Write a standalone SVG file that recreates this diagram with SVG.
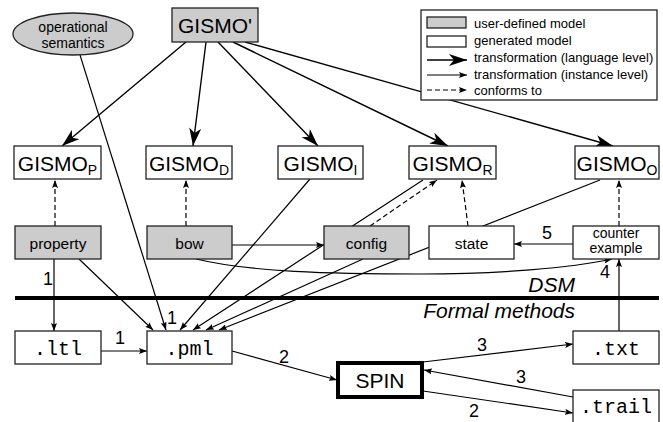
<svg xmlns="http://www.w3.org/2000/svg" width="663" height="422" viewBox="0 0 663 422">
<style>
.box{fill:#fff;stroke:#222;stroke-width:1.3}
.user{fill:#cccccc;stroke:#222;stroke-width:1.3}
.t{font-family:"Liberation Sans",Arial,sans-serif;fill:#000}
.g{font-size:21px;text-anchor:middle}
.m{font-size:15.5px;text-anchor:middle}
.m2{font-size:14px;text-anchor:middle}
.mono{font-family:"Liberation Mono","Courier New",monospace;font-size:20px;text-anchor:middle;fill:#000}
.num{font-size:18px;text-anchor:middle}
.lg{font-size:13px}
.big{fill:none;stroke:#000;stroke-width:1.4;marker-end:url(#bigA)}
.sm{fill:none;stroke:#000;stroke-width:1.2;marker-end:url(#smA)}
.ds{fill:none;stroke:#000;stroke-width:1.2;stroke-dasharray:5,3;marker-end:url(#smA)}
</style>
<defs>
<marker id="bigA" markerUnits="userSpaceOnUse" markerWidth="18" markerHeight="12" viewBox="0 0 18 12" refX="18" refY="6" orient="auto">
<path d="M0,0 L18,6 L0,12 L5,6 z" fill="#000"/>
</marker>
<marker id="smA" markerUnits="userSpaceOnUse" markerWidth="8" markerHeight="6" viewBox="0 0 8 6" refX="8" refY="3" orient="auto">
<path d="M0,0 L8,3 L0,6 L1.5,3 z" fill="#000"/>
</marker>
</defs>

<g id="connectors">
<!-- GISMO' language-level transformations -->
<path class="big" d="M186,42 L62,146"/>
<path class="big" d="M206,42 L193,146"/>
<path class="big" d="M218,42 L318,146"/>
<path class="big" d="M233,42 L448,146"/>
<path class="big" d="M245,42 L613,146"/>
<!-- conforms to -->
<path class="ds" d="M55,226 L55,180"/>
<path class="ds" d="M186,226 L186,180"/>
<path class="ds" d="M370,226 L437,180"/>
<path class="ds" d="M468,226 L462,180"/>
<path class="ds" d="M619,226 L619,180"/>
<!-- instance-level -->
<path class="sm" d="M80,55 L166,330"/>
<path class="sm" d="M79,259 L153,330"/>
<path class="sm" d="M310,179 L180,330"/>
<path class="sm" d="M423,180 L193,330"/>
<path class="sm" d="M363,259 L206,330"/>
<path class="sm" d="M600,180 L219,330"/>
<path class="sm" d="M54,259 L54,331"/>
<path class="sm" d="M101,351 L147,351"/>
<path class="sm" d="M232,245 L324,245"/>
<path class="sm" d="M196,259 C250,272 330,274 420,274 C500,274 570,268 612,259"/>
<path class="sm" d="M573,244 L514,244"/>
<path class="sm" d="M619,331 L619,259"/>
<path class="sm" d="M232,351 L337,380"/>
<path class="sm" d="M423,362 L573,344"/>
<path class="sm" d="M573,397 L424,370"/>
<path class="sm" d="M423,391 L573,413"/>
<!-- separator -->
<line x1="15" y1="298" x2="659" y2="298" stroke="#000" stroke-width="4"/>
</g>

<g id="opsem">
<ellipse cx="73" cy="34" rx="60" ry="21" class="user"/>
<text class="t m2" x="73" y="32">operational</text>
<text class="t m2" x="73" y="47.5">semantics</text>
</g>
<g id="gismo">
<rect x="172" y="8" width="86" height="34" class="user"/>
<text class="t g" x="215" y="33" font-size="22">GISMO'</text>
</g>
<g id="gismoP">
<rect x="14" y="146" width="87" height="33" class="box"/>
<text class="t g" x="57.5" y="170.5">GISMO<tspan font-size="14" dy="4">P</tspan></text>
</g>
<g id="gismoD">
<rect x="146" y="146" width="86" height="33" class="box"/>
<text class="t g" x="189" y="170.5">GISMO<tspan font-size="14" dy="4">D</tspan></text>
</g>
<g id="gismoI">
<rect x="278" y="146" width="85" height="33" class="box"/>
<text class="t g" x="320.5" y="170.5">GISMO<tspan font-size="14" dy="4">I</tspan></text>
</g>
<g id="gismoR">
<rect x="409" y="146" width="87" height="33" class="box"/>
<text class="t g" x="452.5" y="170.5">GISMO<tspan font-size="14" dy="4">R</tspan></text>
</g>
<g id="gismoO">
<rect x="575" y="146" width="84" height="33" class="box"/>
<text class="t g" x="617" y="170.5">GISMO<tspan font-size="14" dy="4">O</tspan></text>
</g>
<g id="property">
<rect x="15" y="226" width="86" height="33" class="user"/>
<text class="t m" x="58" y="249">property</text>
</g>
<g id="bow">
<rect x="147" y="226" width="85" height="33" class="user"/>
<text class="t m" x="189.5" y="249">bow</text>
</g>
<g id="config">
<rect x="324" y="226" width="85" height="33" class="user"/>
<text class="t m" x="366.5" y="249">config</text>
</g>
<g id="state">
<rect x="429" y="226" width="85" height="33" class="box"/>
<text class="t m" x="471.5" y="249">state</text>
</g>
<g id="counterexample">
<rect x="573" y="226" width="86" height="33" class="box"/>
<text class="t m2" x="616" y="237.5">counter</text>
<text class="t m2" x="616" y="253">example</text>
</g>
<g id="ltl">
<rect x="15" y="331" width="86" height="33" class="box"/>
<text class="mono" x="58" y="355">.ltl</text>
</g>
<g id="pml">
<rect x="147" y="331" width="85" height="33" class="box"/>
<text class="mono" x="189.5" y="355">.pml</text>
</g>
<g id="spin">
<rect x="338" y="363" width="84" height="34" fill="#fff" stroke="#000" stroke-width="4"/>
<text class="t g" x="380" y="388">SPIN</text>
</g>
<g id="txt">
<rect x="573" y="331" width="86" height="33" class="box"/>
<text class="mono" x="616" y="355">.txt</text>
</g>
<g id="trail">
<rect x="573" y="390" width="86" height="34" class="box"/>
<text class="mono" x="616" y="413">.trail</text>
</g>

<g id="labels">
<text class="t" x="575" y="292" font-size="21" font-style="italic" text-anchor="end">DSM</text>
<text class="t" x="575" y="318" font-size="21" font-style="italic" text-anchor="end">Formal methods</text>
<text class="t num" x="48" y="285">1</text>
<text class="t num" x="120" y="344">1</text>
<text class="t num" x="172" y="324">1</text>
<text class="t num" x="284" y="363">2</text>
<text class="t num" x="482" y="351">3</text>
<text class="t num" x="521" y="383">3</text>
<text class="t num" x="474" y="417">2</text>
<text class="t num" x="547" y="239">5</text>
<text class="t num" x="605" y="278">4</text>
</g>

<g id="legend">
<rect x="421" y="10" width="236" height="90" class="box"/>
<rect x="427" y="17" width="39" height="11" class="user"/>
<rect x="427" y="36" width="39" height="11" class="box"/>
<path d="M427,60 L467,60" fill="none" stroke="#000" stroke-width="1.4" marker-end="url(#bigA)"/>
<path d="M427,75 L467,75" fill="none" stroke="#000" stroke-width="1.2" marker-end="url(#smA)"/>
<path d="M427,90 L467,90" fill="none" stroke="#000" stroke-width="1.2" stroke-dasharray="5,3" marker-end="url(#smA)"/>
<text class="t lg" x="474" y="28">user-defined model</text>
<text class="t lg" x="474" y="45">generated model</text>
<text class="t lg" x="474" y="62">transformation (language level)</text>
<text class="t lg" x="474" y="79">transformation (instance level)</text>
<text class="t lg" x="474" y="95">conforms to</text>
</g>
</svg>
